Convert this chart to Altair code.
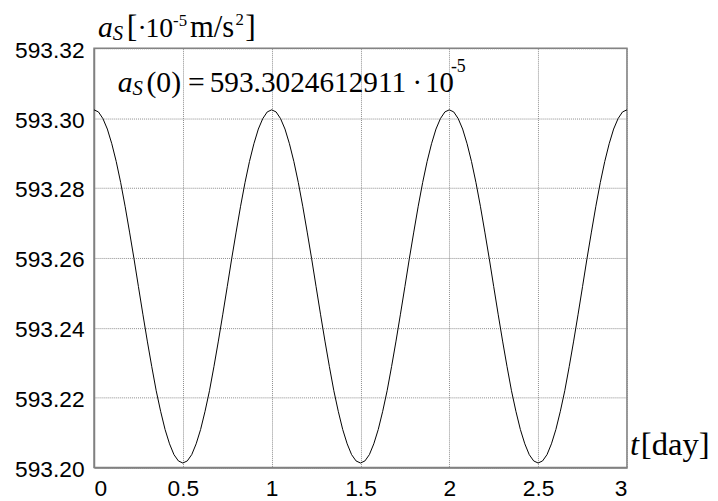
import altair as alt
import pandas as pd

# time in days
t_day = [0.000, 0.025, 0.050, 0.075, 0.100, 0.125, 0.150, 0.175, 0.200, 0.225,
         0.250, 0.275, 0.300, 0.325, 0.350, 0.375, 0.400, 0.425, 0.450, 0.475,
         0.500, 0.525, 0.550, 0.575, 0.600, 0.625, 0.650, 0.675, 0.700, 0.725,
         0.750, 0.775, 0.800, 0.825, 0.850, 0.875, 0.900, 0.925, 0.950, 0.975,
         1.000, 1.025, 1.050, 1.075, 1.100, 1.125, 1.150, 1.175, 1.200, 1.225,
         1.250, 1.275, 1.300, 1.325, 1.350, 1.375, 1.400, 1.425, 1.450, 1.475,
         1.500, 1.525, 1.550, 1.575, 1.600, 1.625, 1.650, 1.675, 1.700, 1.725,
         1.750, 1.775, 1.800, 1.825, 1.850, 1.875, 1.900, 1.925, 1.950, 1.975,
         2.000, 2.025, 2.050, 2.075, 2.100, 2.125, 2.150, 2.175, 2.200, 2.225,
         2.250, 2.275, 2.300, 2.325, 2.350, 2.375, 2.400, 2.425, 2.450, 2.475,
         2.500, 2.525, 2.550, 2.575, 2.600, 2.625, 2.650, 2.675, 2.700, 2.725,
         2.750, 2.775, 2.800, 2.825, 2.850, 2.875, 2.900, 2.925, 2.950, 2.975,
         3.000]

# a_S in 1e-5 m/s^2
a_s = [593.3024, 593.3018, 593.2999, 593.2969, 593.2927, 593.2876, 593.2816, 593.2748, 593.2674, 593.2598,
       593.2518, 593.2439, 593.2362, 593.2289, 593.2220, 593.2161, 593.2109, 593.2068, 593.2037, 593.2019,
       593.2013, 593.2019, 593.2037, 593.2068, 593.2109, 593.2161, 593.2220, 593.2289, 593.2362, 593.2439,
       593.2518, 593.2598, 593.2674, 593.2748, 593.2816, 593.2876, 593.2927, 593.2969, 593.2999, 593.3018,
       593.3024, 593.3018, 593.2999, 593.2969, 593.2927, 593.2876, 593.2816, 593.2748, 593.2674, 593.2598,
       593.2518, 593.2439, 593.2362, 593.2289, 593.2220, 593.2161, 593.2109, 593.2068, 593.2037, 593.2019,
       593.2013, 593.2019, 593.2037, 593.2068, 593.2109, 593.2161, 593.2220, 593.2289, 593.2362, 593.2439,
       593.2518, 593.2598, 593.2674, 593.2748, 593.2816, 593.2876, 593.2927, 593.2969, 593.2999, 593.3018,
       593.3024, 593.3018, 593.2999, 593.2969, 593.2927, 593.2876, 593.2816, 593.2748, 593.2674, 593.2598,
       593.2518, 593.2439, 593.2362, 593.2289, 593.2220, 593.2161, 593.2109, 593.2068, 593.2037, 593.2019,
       593.2013, 593.2019, 593.2037, 593.2068, 593.2109, 593.2161, 593.2220, 593.2289, 593.2362, 593.2439,
       593.2518, 593.2598, 593.2674, 593.2748, 593.2816, 593.2876, 593.2927, 593.2969, 593.2999, 593.3018,
       593.3024]

x_ticks = [0, 0.5, 1, 1.5, 2, 2.5, 3]
y_ticks = [593.20, 593.22, 593.24, 593.26, 593.28, 593.30, 593.32]

df = pd.DataFrame({"t": t_day, "a": a_s})

line = alt.Chart(df).mark_line(color="black", strokeWidth=1).encode(
    x=alt.X("t:Q",
            scale=alt.Scale(domain=[0, 3], nice=False, zero=False),
            axis=alt.Axis(values=x_ticks, format="~g", title=None, labelPadding=10)),
    y=alt.Y("a:Q",
            scale=alt.Scale(domain=[593.20, 593.32], nice=False, zero=False),
            axis=alt.Axis(values=y_ticks, format=".2f", title=None, labelPadding=10, labelOffset=2)),
)

dummy = pd.DataFrame({"k": [0]})


def txt(s, x, y, size, italic=False):
    return alt.Chart(dummy).mark_text(
        text=s, align="left", baseline="alphabetic", font="Liberation Serif",
        fontSize=size, fontStyle="italic" if italic else "normal", color="black"
    ).encode(x=alt.value(x), y=alt.value(y))


texts = [
    # y-axis title
    txt("a", 4, -11, 30, True),
    txt("S", 19, -8, 21, True),
    txt("[", 33, -11, 32),
    txt("·", 44, -11, 28),
    txt("10", 52, -11, 28),
    txt("-5", 80, -23, 17),
    txt("m/s", 97, -11, 31),
    txt("2", 143, -24, 17),
    txt("]", 153, -11, 32),
    # annotation
    txt("a", 24, 44, 30, True),
    txt("S", 39, 47, 21, True),
    txt("(0)", 53, 44, 30),
    txt("=", 95, 44, 30),
    txt("593.3024612911", 117, 44, 29.6),
    txt("·", 322, 44, 29),
    txt("10", 335, 44, 29),
    txt("-5", 361, 24, 18),
    # x-axis title
    txt("t", 542, 411, 33, True),
    txt("[day]", 553, 411, 33),
]

chart = alt.layer(line, *texts).properties(
    width=539, height=424,
    autosize="none",
    padding={"left": 87, "top": 38, "right": 84, "bottom": 31},
).configure_view(
    stroke="#808080", strokeWidth=1.5
).configure_axis(
    grid=True, gridColor="#8c8c8c", gridDash=[1, 1], gridWidth=1,
    domainColor="#808080", domainWidth=1.5,
    tickSize=0, ticks=False,
    labelFont="Liberation Sans", labelFontSize=23, labelColor="black",
)

chart.save("out.html", embed_options={"renderer": "svg", "actions": False})
